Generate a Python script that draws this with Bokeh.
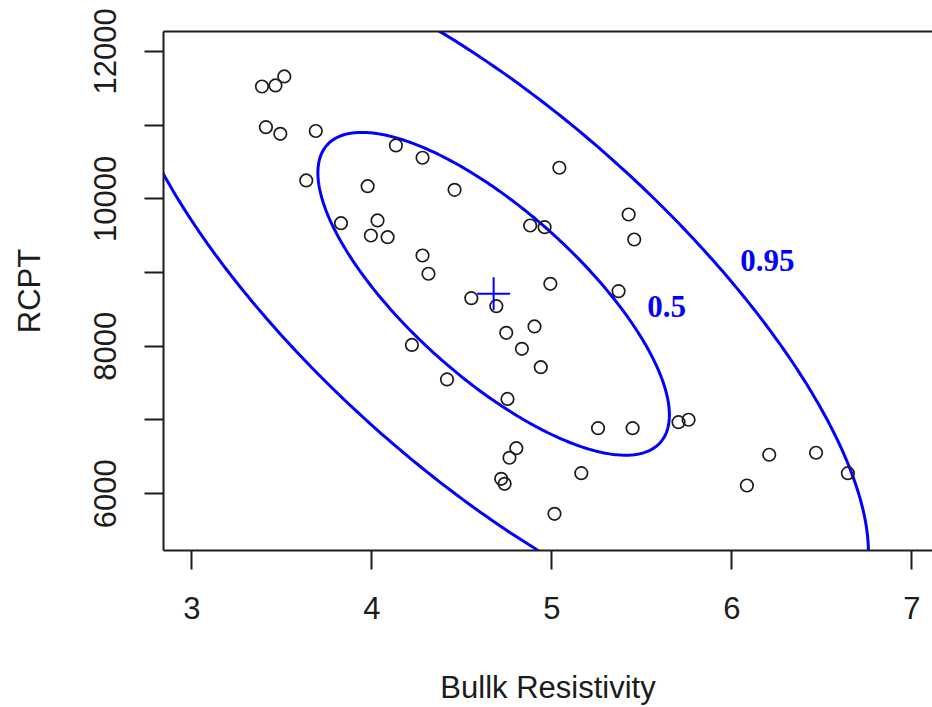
import numpy as np
from bokeh.plotting import figure
from bokeh.models import LinearAxis, Range1d, FixedTicker
from bokeh.core.properties import value
from bokeh.embed import file_html
from bokeh.resources import INLINE

# Observations
bulk_resistivity = [3.389, 3.464, 3.513, 3.411, 3.491, 3.688, 3.635, 3.828, 4.031, 3.994,
                    4.087, 3.976, 4.133, 4.281, 4.459, 5.041, 4.281, 4.314, 4.879, 4.959,
                    4.991, 4.552, 4.691, 5.370, 5.426, 5.457, 4.746, 4.903, 4.833, 4.222,
                    4.938, 4.417, 4.753, 5.256, 5.448, 5.703, 5.759, 4.802, 4.764, 4.718,
                    4.737, 5.163, 5.014, 6.207, 6.467, 6.644, 6.083]
rcpt = [11525, 11539, 11661, 10973, 10883, 10921, 10250, 9670, 9707, 9503,
        9480, 10172, 10725, 10558, 10123, 10422, 9232, 8984, 9639, 9616,
        8848, 8653, 8544, 8748, 9788, 9449, 8183, 8269, 7966, 8018,
        7716, 7550, 7285, 6889, 6889, 6970, 7003, 6617, 6487, 6202,
        6134, 6278, 5727, 6528, 6555, 6278, 6111]

# Bivariate summary used for the data ellipses
center_x, center_y = 4.676, 8712
spread_x, spread_y = 0.823, 1846
correlation = -0.75
levels = [0.5, 0.95]

x_ticks = [3, 4, 5, 6, 7]
y_ticks_labelled = [6000, 8000, 10000, 12000]
y_ticks_between = [7000, 9000, 11000]

# where the level labels sit
level_label_x = [5.529, 6.046]
level_label_y = [8540, 9165]

BLUE = "#0000FF"
INK = "#1c1c1c"
SANS = "Liberation Sans"

p = figure(width=932, height=707,
           x_range=Range1d(2.842, 7.114), y_range=Range1d(5229, 12271),
           output_backend="svg", toolbar_location=None,
           min_border_left=163, min_border_right=0,
           min_border_top=31, min_border_bottom=157,
           background_fill_color="white", border_fill_color="white")
p.outline_line_color = None
p.grid.visible = False

# data ellipses: radius from the F quantile with (2, n-1) degrees of freedom
n = len(bulk_resistivity)
m = n - 1
t = np.linspace(0, 2 * np.pi, 400)
chol = np.array([[spread_x, 0.0],
                 [correlation * spread_y, spread_y * np.sqrt(1 - correlation ** 2)]])
for lev in levels:
    fq = (m / 2.0) * ((1 - lev) ** (-2.0 / m) - 1)
    r = np.sqrt(2 * fq)
    pts = r * chol @ np.vstack([np.cos(t), np.sin(t)])
    p.line(center_x + pts[0], center_y + pts[1], line_color=BLUE, line_width=3)

p.scatter(bulk_resistivity, rcpt, marker="circle", size=12.5,
          fill_color=None, line_color=INK, line_width=1.7)
p.scatter([center_x], [center_y], marker="cross", size=33,
          line_color=BLUE, line_width=2)

p.text(level_label_x, level_label_y, text=[str(l) for l in levels],
       text_color=BLUE, text_font=value("Liberation Serif"),
       text_font_style="bold", text_font_size="31px",
       text_baseline="alphabetic", text_align="left")

# axes
for ax in (p.xaxis[0], p.yaxis[0]):
    ax.axis_line_color = INK
    ax.axis_line_width = 2
    ax.major_tick_line_color = INK
    ax.major_tick_line_width = 2
    ax.major_tick_out = 19
    ax.major_tick_in = 0
    ax.minor_tick_line_color = INK
    ax.minor_tick_line_width = 2
    ax.minor_tick_out = 19
    ax.minor_tick_in = 0
    ax.major_label_text_font = SANS
    ax.major_label_text_font_size = "31px"
    ax.major_label_text_color = INK
    ax.axis_label_text_font = SANS
    ax.axis_label_text_font_size = "31px"
    ax.axis_label_text_font_style = "normal"
    ax.axis_label_text_color = INK

p.xaxis.ticker = FixedTicker(ticks=x_ticks, minor_ticks=[])
p.xaxis.axis_label = "Bullk Resistivity"
p.xaxis.major_label_standoff = 27
p.xaxis.axis_label_standoff = 48

p.yaxis.ticker = FixedTicker(ticks=y_ticks_labelled, minor_ticks=y_ticks_between)
p.yaxis.major_label_orientation = "parallel"
p.yaxis.axis_label = "RCPT"
p.yaxis.major_label_standoff = 28
p.yaxis.axis_label_standoff = 45

top = LinearAxis(ticker=FixedTicker(ticks=[], minor_ticks=[]),
                 axis_line_color=INK, axis_line_width=2,
                 major_tick_line_color=None, minor_tick_line_color=None,
                 major_label_standoff=0, major_tick_out=0, major_tick_in=0)
p.add_layout(top, "above")

open("out.html", "w").write(file_html(p, INLINE))
